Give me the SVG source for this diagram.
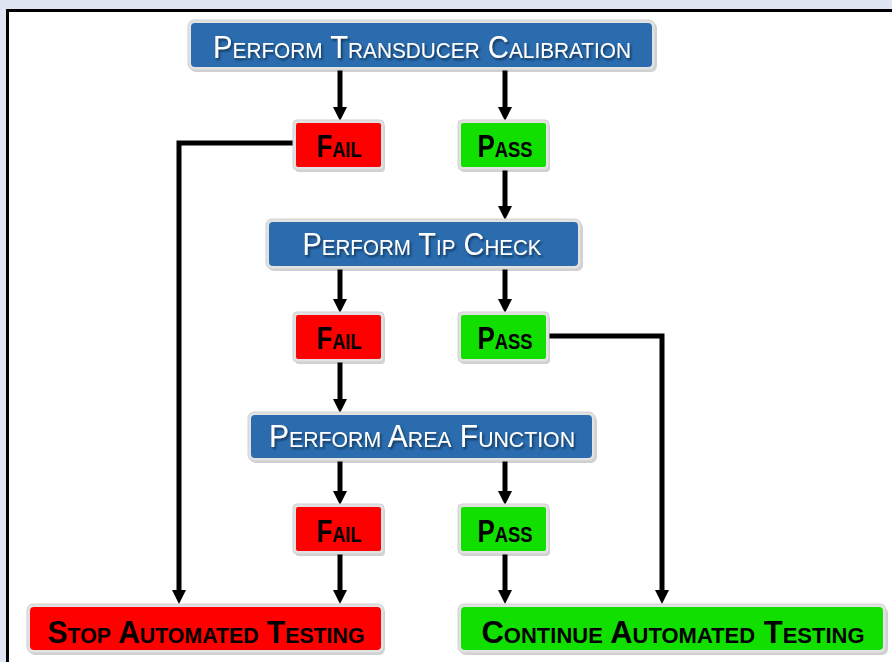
<svg xmlns="http://www.w3.org/2000/svg" width="892" height="662" viewBox="0 0 892 662">
<defs>
<style>
.rim{fill:#e2e2e2;stroke:#d0d0d0;stroke-width:1}
.shadow{fill:#000;opacity:0.18}
.blue{fill:#2a6cae}
.red{fill:#ff0000}
.green{fill:#11df00}
.wt{font-family:"Liberation Sans",Arial,sans-serif;font-size:31px;font-variant:small-caps;fill:#fff;text-anchor:middle;filter:url(#tshadow)}
.bt{font-family:"Liberation Sans",Arial,sans-serif;font-size:31px;font-weight:bold;font-variant:small-caps;fill:#000;text-anchor:middle}
.conn{fill:none;stroke:#000;stroke-width:5;stroke-linejoin:miter}
</style>
<filter id="tshadow" x="-10%" y="-30%" width="120%" height="160%">
<feDropShadow dx="1.5" dy="2" stdDeviation="0.8" flood-color="#0c2a4a" flood-opacity="0.85"/>
</filter>
<marker id="ah" markerUnits="userSpaceOnUse" markerWidth="16" markerHeight="16" viewBox="0 0 16 16" refX="2" refY="8" orient="auto">
<path d="M0,1 L14,8 L0,15 z" fill="#000"/>
</marker>
</defs>
<rect x="0" y="0" width="892" height="662" fill="#dfe5f2"/>
<rect x="7.5" y="10.5" width="900" height="700" fill="#fff" stroke="#000" stroke-width="3"/>

<g id="connectors">
<path class="conn" marker-end="url(#ah)" d="M340,70 V109"/>
<path class="conn" marker-end="url(#ah)" d="M505,70 V109"/>
<path class="conn" marker-end="url(#ah)" d="M505,170 V208"/>
<path class="conn" marker-end="url(#ah)" d="M340,268 V301"/>
<path class="conn" marker-end="url(#ah)" d="M505,268 V301"/>
<path class="conn" marker-end="url(#ah)" d="M340,361 V401"/>
<path class="conn" marker-end="url(#ah)" d="M340,460 V493"/>
<path class="conn" marker-end="url(#ah)" d="M505,460 V493"/>
<path class="conn" marker-end="url(#ah)" d="M340,553 V592"/>
<path class="conn" marker-end="url(#ah)" d="M505,553 V592"/>
<path class="conn" marker-end="url(#ah)" d="M294,143 H179 V592"/>
<path class="conn" marker-end="url(#ah)" d="M549,336 H662 V592"/>
</g>

<g id="transducer">
<rect class="shadow" x="190" y="22" width="467" height="50" rx="6"/>
<rect class="rim" x="188" y="20" width="467" height="50" rx="6"/>
<rect class="blue" x="191" y="23" width="461" height="44" rx="4"/>
<text class="wt" x="422" y="58" textLength="418" lengthAdjust="spacingAndGlyphs">Perform Transducer Calibration</text>
</g>

<g id="fail1">
<rect class="shadow" x="295" y="123" width="90" height="49" rx="4"/>
<rect class="rim" x="293" y="120" width="91" height="50" rx="4"/>
<rect class="red" x="296" y="123" width="85" height="44" rx="2"/>
<text class="bt" x="339" y="157" textLength="45" lengthAdjust="spacingAndGlyphs">Fail</text>
</g>

<g id="pass1">
<rect class="shadow" x="460" y="123" width="90" height="49" rx="4"/>
<rect class="rim" x="458" y="120" width="91" height="50" rx="4"/>
<rect class="green" x="461" y="123" width="85" height="44" rx="2"/>
<text class="bt" x="505" y="157" textLength="55" lengthAdjust="spacingAndGlyphs">Pass</text>
</g>

<g id="tipcheck">
<rect class="shadow" x="268" y="222" width="315" height="49" rx="6"/>
<rect class="rim" x="266" y="219" width="315" height="50" rx="6"/>
<rect class="blue" x="269" y="222" width="309" height="44" rx="4"/>
<text class="wt" x="422" y="255" textLength="239" lengthAdjust="spacingAndGlyphs">Perform Tip Check</text>
</g>

<g id="fail2">
<rect class="shadow" x="295" y="315" width="90" height="49" rx="4"/>
<rect class="rim" x="293" y="312" width="91" height="50" rx="4"/>
<rect class="red" x="296" y="315" width="85" height="44" rx="2"/>
<text class="bt" x="339" y="349" textLength="45" lengthAdjust="spacingAndGlyphs">Fail</text>
</g>

<g id="pass2">
<rect class="shadow" x="460" y="315" width="90" height="49" rx="4"/>
<rect class="rim" x="458" y="312" width="91" height="50" rx="4"/>
<rect class="green" x="461" y="315" width="85" height="44" rx="2"/>
<text class="bt" x="505" y="349" textLength="55" lengthAdjust="spacingAndGlyphs">Pass</text>
</g>

<g id="areafunction">
<rect class="shadow" x="250" y="415" width="347" height="48" rx="6"/>
<rect class="rim" x="248" y="412" width="347" height="49" rx="6"/>
<rect class="blue" x="251" y="415" width="341" height="43" rx="4"/>
<text class="wt" x="422" y="447" textLength="306" lengthAdjust="spacingAndGlyphs">Perform Area Function</text>
</g>

<g id="fail3">
<rect class="shadow" x="295" y="507" width="90" height="49" rx="4"/>
<rect class="rim" x="293" y="504" width="91" height="50" rx="4"/>
<rect class="red" x="296" y="507" width="85" height="44" rx="2"/>
<text class="bt" x="339" y="542" textLength="45" lengthAdjust="spacingAndGlyphs">Fail</text>
</g>

<g id="pass3">
<rect class="shadow" x="460" y="507" width="90" height="49" rx="4"/>
<rect class="rim" x="458" y="504" width="91" height="50" rx="4"/>
<rect class="green" x="461" y="507" width="85" height="44" rx="2"/>
<text class="bt" x="505" y="542" textLength="55" lengthAdjust="spacingAndGlyphs">Pass</text>
</g>

<g id="stop">
<rect class="shadow" x="29" y="607" width="356" height="48" rx="6"/>
<rect class="rim" x="27" y="604" width="357" height="49" rx="6"/>
<rect class="red" x="30" y="607" width="351" height="43" rx="4"/>
<text class="bt" x="206" y="643" textLength="317" lengthAdjust="spacingAndGlyphs">Stop Automated Testing</text>
</g>

<g id="continue">
<rect class="shadow" x="460" y="607" width="428" height="48" rx="6"/>
<rect class="rim" x="458" y="604" width="428" height="49" rx="6"/>
<rect class="green" x="461" y="607" width="422" height="43" rx="4"/>
<text class="bt" x="673" y="643" textLength="383" lengthAdjust="spacingAndGlyphs">Continue Automated Testing</text>
</g>
</svg>
